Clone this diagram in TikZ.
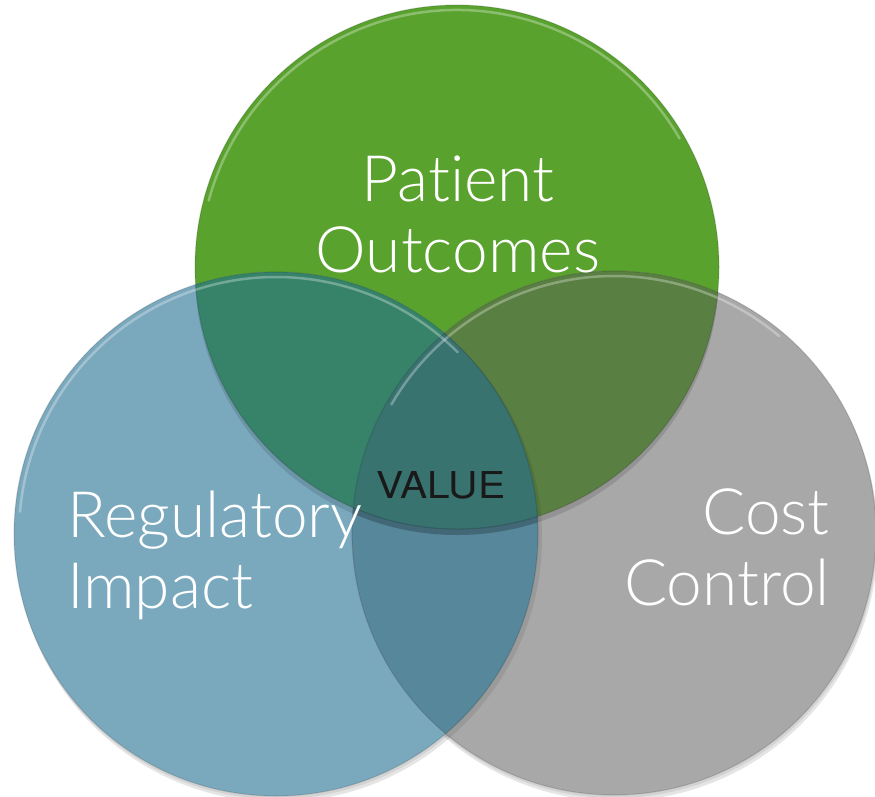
\documentclass[tikz,border=0pt]{standalone}
\usepackage{fontspec}
\setmainfont{TeX Gyre Heros}
\newfontfamily\lightfont{Lato Light}[Ligatures={NoCommon}]
\newfontfamily\valfont{TeX Gyre Heros}[FakeStretch=1.1]
\definecolor{cgreen}{HTML}{5AA22E}
\definecolor{cblue}{HTML}{7AA9BE}
\definecolor{cgray}{HTML}{A8A8A8}
\definecolor{cGB}{HTML}{37836A}
\definecolor{cGC}{HTML}{5A7F42}
\definecolor{cBC}{HTML}{57879A}
\definecolor{cGBC}{HTML}{387370}
\begin{document}
\begin{tikzpicture}[x=1pt,y=-1pt,
  big/.style={text=white, font=\lightfont\fontsize{64}{71}\selectfont, inner sep=0pt},
  core/.style={text=black!90, font=\valfont\fontsize{37}{40}\selectfont, inner sep=0pt},
  rim/.style={white, opacity=0.3, line width=2.5pt, line cap=round},
  edge/.style={black, opacity=0.12, line width=1.2pt}]
\def\R{262pt}
\useasboundingbox (0,0) rectangle (875,797);
\coordinate (G) at (457,267);
\coordinate (B) at (276,534);
\coordinate (C) at (614,533);
% drop shadows
\fill[black, opacity=0.10] ([shift={(2,6)}]B) circle[radius=\R];
\fill[black, opacity=0.10] ([shift={(2,6)}]C) circle[radius=\R];
\fill[black, opacity=0.08] ([shift={(1,3)}]B) circle[radius=\R];
\fill[black, opacity=0.08] ([shift={(1,3)}]C) circle[radius=\R];
% base fills
\fill[cgreen] (G) circle[radius=\R];
\fill[cblue] (B) circle[radius=\R];
\fill[cgray] (C) circle[radius=\R];
\begin{scope}
  \clip (G) circle[radius=\R];
  \fill[cGB] (B) circle[radius=\R];
  \fill[cGC] (C) circle[radius=\R];
\end{scope}
\begin{scope}
  \clip (B) circle[radius=\R];
  \fill[cBC] (C) circle[radius=\R];
\end{scope}
\begin{scope}
  \clip (G) circle[radius=\R];
  \clip (B) circle[radius=\R];
  \fill[cGBC] (C) circle[radius=\R];
\end{scope}
% shadow of green on the others
\begin{scope}
  \clip (B) circle[radius=\R];
  \fill[black, opacity=0.12, even odd rule] ([shift={(0,6)}]G) circle[radius=\R] (G) circle[radius=\R];
\end{scope}
\begin{scope}
  \clip (C) circle[radius=\R];
  \fill[black, opacity=0.12, even odd rule] ([shift={(0,6)}]G) circle[radius=\R] (G) circle[radius=\R];
\end{scope}
% shadow of blue on gray
\begin{scope}
  \clip (C) circle[radius=\R];
  \fill[black, opacity=0.08, even odd rule] ([shift={(4,4)}]B) circle[radius=\R] (B) circle[radius=\R];
\end{scope}
% rim highlights
\draw[rim] ([shift={(30:257pt)}]G) arc[start angle=30, end angle=165, radius=257pt];
\draw[rim] ([shift={(45:257pt)}]B) arc[start angle=45, end angle=175, radius=257pt];
\draw[rim] ([shift={(50:257pt)}]C) arc[start angle=50, end angle=150, radius=257pt];
% edges
\draw[edge] (G) circle[radius=\R];
\draw[edge] (B) circle[radius=\R];
\draw[edge] (C) circle[radius=\R];
% labels
\node[big, anchor=base, align=center] (po) at (458,272) {Patient\\Outcomes};
\node[big, anchor=base west, align=left] (ri) at (67,608) {Regulatory\\Impact};
\node[big, anchor=base east, align=right] (cc) at (830,605) {Cost\\Control};
\node[core, anchor=base west] (val) at (376,498) {VALUE};
\end{tikzpicture}
\end{document}
